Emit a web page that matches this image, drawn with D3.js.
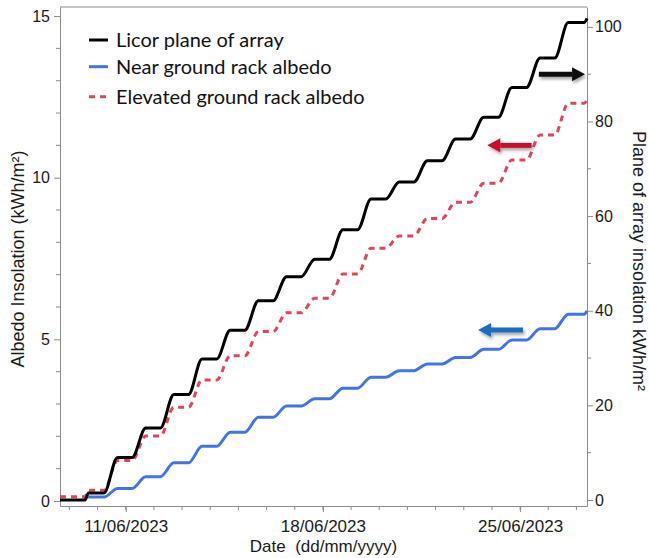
<!DOCTYPE html>
<html lang="en">
<head>
  <meta charset="UTF-8">
  <title>Albedo and plane of array insolation</title>
  <style>
    body {
      margin: 0;
      background: #fff;
    }

    svg {
      display: block;
    }

    .axis path,
    .axis line {
      stroke: #8c8c8c;
    }

    .axis text {
      font-family: "Liberation Sans", Arial, sans-serif;
      font-size: 16px;
      fill: #1a1a1a;
    }

    .x-axis text {
      font-size: 17px;
    }

    .axis-title {
      font-family: "Liberation Sans", Arial, sans-serif;
      font-size: 18px;
      fill: #1a1a1a;
    }

    .x-title {
      font-size: 17px;
    }

    .legend text {
      font-family: Lato, "Open Sans", sans-serif;
      font-size: 20px;
      fill: #111;
    }
  </style>
</head>
<body>
  <svg id="chart" width="649" height="558"></svg>

  <script src="https://d3js.org/d3.v7.min.js"></script>
  <script>
    // Days with a daytime rise; values are the cumulative total at the end of that day
    const days = ["2023-06-09", "2023-06-10", "2023-06-11", "2023-06-12", "2023-06-13", "2023-06-14",
      "2023-06-15", "2023-06-16", "2023-06-17", "2023-06-18", "2023-06-19", "2023-06-20",
      "2023-06-21", "2023-06-22", "2023-06-23", "2023-06-24", "2023-06-25", "2023-06-26"];

    // right axis, kWh/m²
    const licorPOA = [1.5, 9.0, 15.2, 22.3, 29.8, 35.9, 42.1, 47.2, 50.9, 57.1, 63.6, 67.2,
      71.7, 76.3, 80.9, 87.2, 93.4, 100.9];
    // left axis, kWh/m²
    const nearAlbedo = [0.12, 0.39, 0.75, 1.18, 1.69, 2.13, 2.59, 2.94, 3.16, 3.49, 3.83, 4.03,
      4.24, 4.44, 4.69, 4.98, 5.33, 5.78];
    const elevAlbedo = [0.33, 1.25, 2.01, 2.90, 3.74, 4.49, 5.24, 5.82, 6.27, 7.02, 7.82, 8.20,
      8.74, 9.24, 9.83, 10.55, 11.32, 12.30];

    // value before the first rise (null = series starts later) and at the last reading
    const seriesNames = ["Licor plane of array", "Near ground rack albedo", "Elevated ground rack albedo"];
    const startValues = [0, null, 0.13];
    const endValues = [101.8, 5.88, 12.4];

    const timeStart = "2023-06-08 16:00";
    const timeEnd = "2023-06-27 09:00";
    const majorTicks = ["2023-06-11", "2023-06-18", "2023-06-25"];

    const leftTicks = [0, 5, 10, 15];
    const rightTicks = [0, 20, 40, 60, 80, 100];

    const parseDay = d3.timeParse("%Y-%m-%d");
    const parseTime = d3.timeParse("%Y-%m-%d %H:%M");
    const fmt = d3.timeFormat("%d/%m/%Y");

    const svg = d3.select("#chart");
    const margin = { top: 7, right: 62, bottom: 52, left: 60 };
    const W = +svg.attr("width") - margin.left - margin.right;
    const H = +svg.attr("height") - margin.top - margin.bottom;

    const g = svg.append("g").attr("transform", `translate(${margin.left},${margin.top})`);

    const x = d3.scaleTime().domain([parseTime(timeStart), parseTime(timeEnd)]).range([0, W]);
    const yL = d3.scaleLinear().domain([-0.155, 15.28]).range([H, 0]);
    const yR = d3.scaleLinear().domain([-1.27, 104.2]).range([H, 0]);

    // cumulative curve: flat at night, rising through the day
    function hours(day, h) {
      return d3.timeMinute.offset(parseDay(day), Math.round(h * 60));
    }

    function buildPoints(vals, start, end) {
      const pts = [];
      if (start !== null) {
        pts.push([parseTime(timeStart), start]);
        pts.push([hours(days[0], 13.3), start]);
        pts.push([hours(days[0], 16.25), vals[0]]);
      } else {
        pts.push([hours(days[0], 16.0), vals[0]]);
      }
      for (let i = 1; i < days.length; i++) {
        pts.push([hours(days[i], 5.5), vals[i - 1]]);
        pts.push([hours(days[i], 17), vals[i]]);
      }
      pts.push([hours("2023-06-27", 6.5), vals[vals.length - 1]]);
      pts.push([parseTime(timeEnd), end]);
      return pts;
    }

    // frame
    g.append("line")
      .attr("x1", 0).attr("x2", W).attr("y1", 0).attr("y2", 0)
      .attr("stroke", "#8c8c8c");

    // axes
    const xAxis = g.append("g")
      .attr("class", "axis x-axis")
      .attr("transform", `translate(0,${H})`)
      .call(d3.axisBottom(x).tickValues(majorTicks.map(parseDay)).tickFormat(fmt).tickSize(6).tickPadding(8).tickSizeOuter(0));
    xAxis.selectAll(".minor")
      .data(d3.timeDay.range(d3.timeDay.ceil(x.domain()[0]), x.domain()[1]))
      .enter().append("line")
      .attr("class", "minor")
      .attr("x1", d => x(d)).attr("x2", d => x(d))
      .attr("y1", 0).attr("y2", 4);

    const leftAxis = g.append("g")
      .attr("class", "axis")
      .call(d3.axisLeft(yL).tickValues(leftTicks).tickSize(6).tickPadding(4).tickSizeOuter(0));
    leftAxis.selectAll(".minor")
      .data(d3.range(1, 16).filter(v => v % 5 !== 0))
      .enter().append("line")
      .attr("class", "minor")
      .attr("y1", d => yL(d)).attr("y2", d => yL(d))
      .attr("x1", 0).attr("x2", -4);

    const rightAxis = g.append("g")
      .attr("class", "axis")
      .attr("transform", `translate(${W},0)`)
      .call(d3.axisRight(yR).tickValues(rightTicks).tickSize(6).tickPadding(2).tickSizeOuter(0));
    rightAxis.selectAll(".minor")
      .data(d3.range(10, 101, 20))
      .enter().append("line")
      .attr("class", "minor")
      .attr("y1", d => yR(d)).attr("y2", d => yR(d))
      .attr("x1", 0).attr("x2", 4);

    // axis titles
    g.append("text")
      .attr("class", "axis-title")
      .attr("transform", `translate(${-36},${252}) rotate(-90)`)
      .attr("text-anchor", "middle")
      .text("Albedo Insolation (kWh/m²)");

    g.append("text")
      .attr("class", "axis-title")
      .attr("transform", `translate(${W + 46},${254}) rotate(90)`)
      .attr("text-anchor", "middle")
      .text("Plane of array insolation kWh/m²");

    g.append("text")
      .attr("class", "axis-title x-title")
      .attr("x", W / 2)
      .attr("y", H + 46)
      .attr("text-anchor", "middle")
      .attr("xml:space", "preserve")
      .text("Date  (dd/mm/yyyy)");

    // lines
    const lineL = d3.line().x(d => x(d[0])).y(d => yL(d[1])).curve(d3.curveMonotoneX);
    const lineR = d3.line().x(d => x(d[0])).y(d => yR(d[1])).curve(d3.curveMonotoneX);

    g.append("path")
      .datum(buildPoints(nearAlbedo, startValues[1], endValues[1]))
      .attr("fill", "none")
      .attr("stroke", "#4274e6")
      .attr("stroke-width", 3)
      .attr("d", lineL);

    g.append("path")
      .datum(buildPoints(elevAlbedo, startValues[2], endValues[2]))
      .attr("fill", "none")
      .attr("stroke", "#e0465a")
      .attr("stroke-width", 3)
      .attr("stroke-dasharray", "6,5")
      .attr("d", lineL);

    g.append("path")
      .datum(buildPoints(licorPOA, startValues[0], endValues[0]))
      .attr("fill", "none")
      .attr("stroke", "#000")
      .attr("stroke-width", 3)
      .attr("d", lineR);

    // arrows showing which axis each series belongs to
    const defs = svg.append("defs");
    defs.append("filter")
      .attr("id", "shadow")
      .attr("x", "-20%").attr("y", "-50%").attr("width", "140%").attr("height", "200%")
      .append("feDropShadow")
      .attr("dx", 1.5).attr("dy", 2.5).attr("stdDeviation", 1.8)
      .attr("flood-color", "#000").attr("flood-opacity", 0.35);

    const arrows = [
      { from: "2023-06-25 16:00", to: "2023-06-27 07:20", y: yR(90), color: "#111111" },
      { from: "2023-06-25 09:50", to: "2023-06-23 20:00", y: yL(11.0), color: "#c8102e" },
      { from: "2023-06-25 02:30", to: "2023-06-23 12:10", y: yL(5.29), color: "#1a6dbf" }
    ];

    arrows.forEach(a => {
      const x1 = x(parseTime(a.from));
      const x2 = x(parseTime(a.to));
      const dir = Math.sign(x2 - x1);
      const head = 13;
      const ag = g.append("g").attr("filter", "url(#shadow)");
      ag.append("line")
        .attr("x1", x1).attr("x2", x2 - dir * head)
        .attr("y1", a.y).attr("y2", a.y)
        .attr("stroke", a.color)
        .attr("stroke-width", 5);
      ag.append("path")
        .attr("d", `M${x2},${a.y} L${x2 - dir * head},${a.y - 7} L${x2 - dir * head},${a.y + 7} Z`)
        .attr("fill", a.color);
    });

    // legend
    const legendItems = [
      { name: seriesNames[0], color: "#000", dash: null },
      { name: seriesNames[1], color: "#4274e6", dash: null },
      { name: seriesNames[2], color: "#e0465a", dash: "6,5" }
    ];
    const legendY = [33, 59.7, 89.7];
    const legend = g.append("g").attr("class", "legend");
    legendItems.forEach((d, i) => {
      legend.append("line")
        .attr("x1", 29).attr("x2", 48)
        .attr("y1", legendY[i]).attr("y2", legendY[i])
        .attr("stroke", d.color)
        .attr("stroke-width", 3)
        .attr("stroke-dasharray", d.dash);
      legend.append("text")
        .attr("x", 56)
        .attr("y", legendY[i])
        .attr("dy", "0.35em")
        .text(d.name);
    });
  </script>
</body>
</html>
